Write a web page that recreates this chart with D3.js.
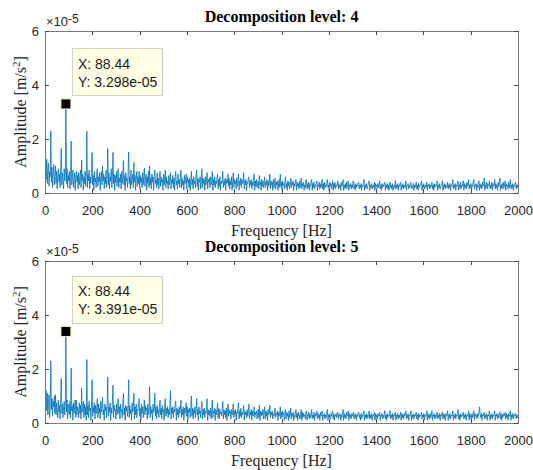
<!DOCTYPE html>
<html>
<head>
<meta charset="utf-8">
<script src="https://cdn.jsdelivr.net/npm/d3@7"></script>
<style>
  html, body { margin: 0; padding: 0; background: #fff; }
  svg { display: block; }
</style>
</head>
<body>
<svg id="chart" width="533" height="470"></svg>
<script>
// ---- data (amplitude in units of 1e-5 m/s^2) ----
const titles = ["Decomposition level: 4", "Decomposition level: 5"];
const freqResolution = 88.44 / 36; // Hz per spectral bin
const xTicks = [0, 200, 400, 600, 800, 1000, 1200, 1400, 1600, 1800, 2000];
const yTicks = [0, 2, 4, 6];
const peakFreq = [88.44, 88.44];
const peakAmp = [3.298, 3.391];
const peakLabels = ["3.298e-05", "3.391e-05"];

const level4 = [
6.0,1.3,0.5,1.25,0.35,0.9,1.1,0.25,0.8,0.6,2.3,0.4,0.95,0.2,0.75,1.05,0.3,0.65,
1.0,0.35,0.8,0.15,0.6,0.9,0.4,0.7,0.2,0.85,1.65,0.3,0.75,0.5,0.15,0.9,0.45,0.7,
3.298,0.35,0.9,0.2,0.65,0.45,0.8,0.15,0.7,1.92,0.3,0.6,0.85,0.2,0.5,0.75,0.1,0.55,
0.8,0.4,0.65,0.15,0.75,0.3,0.55,0.85,0.2,1.22,0.45,0.7,0.1,0.6,0.35,0.8,0.25,0.65,
2.28,0.2,0.7,0.45,0.85,0.15,0.6,0.35,0.75,1.5,0.3,0.65,0.1,0.8,0.4,0.55,0.2,0.7,
0.9,0.25,0.6,0.4,0.75,0.1,0.55,0.8,0.3,1.0,0.45,0.7,0.15,0.6,0.35,0.85,0.2,0.5,
1.65,0.3,0.75,0.15,0.6,0.45,0.9,0.2,0.55,1.5,0.35,0.7,0.1,0.65,0.4,0.8,0.25,0.6,
0.9,0.2,0.55,0.4,0.7,0.15,0.8,0.35,0.6,1.2,0.3,0.65,0.1,0.75,0.45,0.55,0.2,0.7,
1.52,0.35,0.6,0.15,0.85,0.3,0.5,0.7,0.2,1.13,0.4,0.65,0.1,0.55,0.8,0.25,0.6,0.35,
0.8,0.15,0.65,0.4,0.55,0.2,0.75,0.3,0.6,0.92,0.25,0.5,0.7,0.1,0.6,0.35,0.8,0.2,
1.0,0.3,0.55,0.15,0.7,0.4,0.6,0.1,0.65,0.85,0.35,0.5,0.2,0.75,0.3,0.55,0.15,0.6,
0.8,0.25,0.6,0.4,0.5,0.1,0.7,0.3,0.55,0.85,0.2,0.6,0.35,0.45,0.15,0.65,0.3,0.55,
0.75,0.15,0.5,0.35,0.65,0.2,0.55,0.1,0.6,0.8,0.3,0.45,0.15,0.7,0.35,0.5,0.2,0.6,
0.85,0.2,0.55,0.3,0.45,0.1,0.65,0.35,0.5,0.7,0.15,0.6,0.4,0.5,0.2,0.55,0.1,0.45,
0.8,0.3,0.5,0.15,0.6,0.35,0.45,0.2,0.65,0.85,0.25,0.55,0.1,0.5,0.4,0.6,0.15,0.45,
0.9,0.2,0.55,0.35,0.5,0.1,0.6,0.3,0.45,0.75,0.15,0.5,0.4,0.55,0.2,0.6,0.3,0.4,
0.8,0.1,0.5,0.3,0.6,0.2,0.45,0.35,0.55,0.7,0.15,0.5,0.25,0.6,0.1,0.45,0.35,0.5,
0.8,0.2,0.45,0.3,0.55,0.1,0.5,0.35,0.4,0.7,0.25,0.55,0.15,0.45,0.3,0.6,0.1,0.4,
0.75,0.2,0.5,0.35,0.45,0.15,0.55,0.25,0.4,0.7,0.1,0.45,0.3,0.55,0.2,0.5,0.35,0.4,
0.75,0.15,0.45,0.3,0.5,0.1,0.4,0.35,0.55,0.6,0.2,0.45,0.3,0.5,0.15,0.4,0.25,0.5,
0.7,0.1,0.45,0.25,0.5,0.2,0.35,0.45,0.15,0.65,0.3,0.4,0.1,0.5,0.25,0.45,0.2,0.35,
0.6,0.2,0.4,0.3,0.5,0.1,0.45,0.25,0.35,0.7,0.15,0.45,0.3,0.4,0.1,0.5,0.2,0.35,
0.55,0.15,0.4,0.3,0.45,0.1,0.35,0.5,0.2,0.7,0.25,0.4,0.1,0.45,0.3,0.35,0.15,0.4,
0.6,0.2,0.35,0.1,0.45,0.25,0.4,0.15,0.3,0.55,0.2,0.4,0.3,0.45,0.1,0.35,0.25,0.4,
0.5,0.1,0.4,0.25,0.35,0.15,0.45,0.2,0.3,0.55,0.15,0.35,0.25,0.4,0.1,0.3,0.2,0.45,
0.5,0.15,0.35,0.2,0.4,0.1,0.3,0.25,0.45,0.5,0.1,0.35,0.2,0.4,0.15,0.3,0.25,0.35,
0.45,0.1,0.3,0.25,0.4,0.15,0.35,0.2,0.3,0.5,0.15,0.35,0.1,0.4,0.2,0.3,0.25,0.4,
0.5,0.2,0.3,0.1,0.4,0.25,0.35,0.15,0.3,0.45,0.1,0.35,0.2,0.4,0.15,0.3,0.25,0.35,
0.45,0.15,0.35,0.2,0.3,0.1,0.4,0.25,0.3,0.5,0.1,0.3,0.2,0.35,0.15,0.4,0.2,0.3,
0.45,0.1,0.3,0.25,0.35,0.15,0.3,0.2,0.4,0.45,0.15,0.3,0.1,0.35,0.2,0.3,0.25,0.35,
0.4,0.15,0.3,0.2,0.35,0.1,0.3,0.25,0.35,0.5,0.1,0.3,0.2,0.35,0.15,0.25,0.3,0.4,
0.45,0.1,0.3,0.2,0.35,0.15,0.25,0.3,0.2,0.4,0.1,0.35,0.25,0.3,0.15,0.35,0.2,0.3,
0.45,0.15,0.3,0.1,0.35,0.2,0.3,0.25,0.35,0.4,0.1,0.3,0.2,0.35,0.15,0.3,0.1,0.35,
0.4,0.2,0.3,0.15,0.35,0.1,0.25,0.3,0.2,0.45,0.15,0.3,0.2,0.35,0.1,0.3,0.25,0.35,
0.4,0.1,0.3,0.2,0.35,0.15,0.3,0.25,0.2,0.45,0.1,0.25,0.3,0.35,0.15,0.3,0.2,0.35,
0.4,0.15,0.25,0.2,0.35,0.1,0.3,0.2,0.3,0.4,0.15,0.3,0.1,0.35,0.2,0.25,0.3,0.35,
0.45,0.1,0.3,0.2,0.35,0.15,0.25,0.3,0.2,0.4,0.1,0.3,0.25,0.35,0.15,0.3,0.2,0.3,
0.4,0.15,0.3,0.1,0.35,0.2,0.3,0.25,0.35,0.45,0.1,0.3,0.2,0.35,0.15,0.25,0.3,0.35,
0.45,0.1,0.3,0.2,0.35,0.15,0.3,0.25,0.2,0.4,0.15,0.3,0.2,0.35,0.1,0.3,0.25,0.4,
0.5,0.15,0.3,0.2,0.35,0.1,0.3,0.25,0.35,0.45,0.1,0.3,0.2,0.4,0.15,0.3,0.25,0.35,
0.45,0.1,0.35,0.2,0.3,0.15,0.4,0.25,0.3,0.5,0.15,0.3,0.2,0.35,0.1,0.3,0.25,0.4,
0.5,0.15,0.3,0.25,0.35,0.1,0.3,0.2,0.4,0.45,0.1,0.35,0.2,0.3,0.15,0.4,0.25,0.35,
0.55,0.1,0.3,0.2,0.4,0.15,0.35,0.25,0.3,0.45,0.15,0.3,0.2,0.4,0.1,0.35,0.25,0.3,
0.5,0.15,0.35,0.2,0.3,0.1,0.4,0.25,0.35,0.55,0.1,0.3,0.2,0.35,0.15,0.4,0.2,0.3,
0.45,0.1,0.35,0.25,0.3,0.15,0.4,0.2,0.35,0.5,0.15,0.3,0.2,0.35,0.1,0.3,0.25,0.35,
0.4,0.15,0.3,0.2,0.35
];

const level5 = [
6.0,1.0,1.2,0.45,1.1,0.3,0.85,1.05,0.2,0.7,2.3,0.5,0.9,0.25,0.8,0.6,1.0,0.35,
1.05,0.3,0.75,0.5,0.2,0.85,0.4,0.65,0.15,0.9,1.65,0.35,0.7,0.2,0.6,0.8,0.3,0.75,
3.391,0.4,0.85,0.15,0.7,0.5,0.3,0.8,0.2,2.03,0.45,0.65,0.1,0.75,0.35,0.6,0.85,0.2,
0.85,0.3,0.6,0.45,0.2,0.75,0.35,0.65,0.15,1.3,0.4,0.55,0.8,0.2,0.7,0.3,0.6,0.1,
2.35,0.3,0.65,0.2,0.8,0.45,0.55,0.1,0.7,1.6,0.25,0.6,0.4,0.75,0.15,0.65,0.35,0.5,
0.9,0.2,0.7,0.35,0.55,0.15,0.8,0.4,0.6,0.95,0.3,0.5,0.1,0.7,0.45,0.6,0.2,0.75,
1.7,0.25,0.6,0.4,0.75,0.1,0.55,0.35,0.8,1.4,0.2,0.65,0.45,0.5,0.15,0.7,0.3,0.55,
0.9,0.35,0.6,0.15,0.7,0.4,0.5,0.2,0.75,1.1,0.3,0.55,0.1,0.65,0.45,0.6,0.25,0.5,
1.6,0.2,0.65,0.35,0.5,0.1,0.75,0.4,0.55,1.1,0.15,0.6,0.3,0.7,0.2,0.5,0.45,0.65,
0.9,0.25,0.55,0.1,0.7,0.35,0.6,0.2,0.5,0.85,0.3,0.65,0.45,0.55,0.15,0.7,0.3,0.5,
1.35,0.2,0.6,0.35,0.5,0.1,0.7,0.4,0.55,1.1,0.25,0.6,0.15,0.65,0.35,0.5,0.2,0.6,
0.85,0.3,0.55,0.15,0.65,0.4,0.5,0.1,0.6,0.9,0.25,0.55,0.35,0.6,0.2,0.5,0.3,0.65,
1.2,0.15,0.55,0.35,0.6,0.2,0.5,0.4,0.65,0.8,0.1,0.55,0.3,0.5,0.2,0.6,0.35,0.45,
0.85,0.2,0.5,0.3,0.6,0.1,0.55,0.35,0.45,0.75,0.25,0.6,0.15,0.5,0.4,0.55,0.2,0.6,
1.0,0.25,0.55,0.15,0.5,0.35,0.6,0.2,0.45,0.9,0.3,0.5,0.1,0.6,0.35,0.45,0.2,0.55,
0.8,0.15,0.5,0.3,0.55,0.2,0.45,0.35,0.6,0.9,0.1,0.5,0.3,0.45,0.25,0.55,0.15,0.5,
0.85,0.2,0.45,0.35,0.55,0.1,0.5,0.3,0.45,0.75,0.2,0.55,0.15,0.5,0.35,0.4,0.25,0.55,
0.8,0.15,0.5,0.3,0.45,0.2,0.55,0.1,0.4,0.7,0.25,0.5,0.35,0.45,0.15,0.5,0.3,0.4,
0.7,0.2,0.45,0.3,0.5,0.1,0.4,0.35,0.5,0.75,0.15,0.45,0.25,0.55,0.2,0.4,0.3,0.45,
0.65,0.1,0.45,0.3,0.4,0.2,0.5,0.25,0.45,0.7,0.15,0.4,0.3,0.5,0.1,0.45,0.25,0.4,
0.6,0.2,0.4,0.3,0.45,0.15,0.35,0.5,0.2,0.65,0.1,0.45,0.25,0.4,0.3,0.5,0.15,0.4,
0.6,0.15,0.45,0.25,0.4,0.1,0.5,0.3,0.35,0.65,0.2,0.4,0.3,0.45,0.15,0.35,0.25,0.45,
0.55,0.2,0.35,0.3,0.45,0.1,0.4,0.25,0.35,0.6,0.15,0.4,0.2,0.45,0.3,0.35,0.1,0.4,
0.5,0.15,0.4,0.25,0.35,0.1,0.45,0.2,0.3,0.55,0.15,0.35,0.25,0.4,0.1,0.3,0.2,0.4,
0.5,0.2,0.35,0.1,0.4,0.25,0.3,0.15,0.35,0.5,0.1,0.4,0.2,0.35,0.25,0.3,0.15,0.4,
0.45,0.1,0.3,0.25,0.4,0.15,0.35,0.2,0.3,0.5,0.15,0.3,0.2,0.4,0.1,0.35,0.25,0.3,
0.45,0.15,0.35,0.2,0.3,0.1,0.4,0.25,0.35,0.45,0.1,0.3,0.25,0.35,0.15,0.3,0.2,0.4,
0.5,0.1,0.3,0.2,0.35,0.15,0.3,0.25,0.4,0.45,0.15,0.35,0.1,0.3,0.25,0.35,0.2,0.3,
0.4,0.15,0.3,0.25,0.35,0.1,0.3,0.2,0.35,0.5,0.1,0.35,0.2,0.3,0.15,0.4,0.25,0.3,
0.45,0.1,0.35,0.2,0.3,0.15,0.35,0.25,0.3,0.4,0.15,0.3,0.2,0.35,0.1,0.3,0.25,0.35,
0.4,0.2,0.3,0.1,0.35,0.15,0.3,0.25,0.35,0.45,0.1,0.3,0.2,0.35,0.15,0.3,0.2,0.35,
0.45,0.15,0.3,0.2,0.35,0.1,0.3,0.25,0.3,0.4,0.1,0.35,0.2,0.3,0.15,0.35,0.25,0.3,
0.4,0.1,0.3,0.25,0.35,0.15,0.3,0.2,0.35,0.45,0.15,0.3,0.1,0.35,0.2,0.3,0.25,0.35,
0.45,0.15,0.3,0.2,0.35,0.1,0.3,0.25,0.35,0.4,0.1,0.3,0.2,0.35,0.15,0.3,0.2,0.3,
0.4,0.1,0.35,0.2,0.3,0.15,0.35,0.25,0.3,0.45,0.15,0.3,0.2,0.35,0.1,0.3,0.25,0.35,
0.45,0.1,0.3,0.2,0.35,0.15,0.3,0.25,0.35,0.4,0.15,0.3,0.1,0.35,0.2,0.3,0.25,0.3,
0.4,0.15,0.3,0.2,0.35,0.1,0.3,0.25,0.3,0.45,0.1,0.35,0.2,0.3,0.15,0.35,0.2,0.3,
0.45,0.1,0.3,0.25,0.35,0.15,0.3,0.2,0.35,0.4,0.15,0.3,0.2,0.35,0.1,0.3,0.25,0.35,
0.4,0.15,0.35,0.2,0.3,0.1,0.35,0.25,0.3,0.45,0.1,0.3,0.2,0.35,0.15,0.3,0.25,0.3,
0.45,0.1,0.3,0.2,0.35,0.15,0.3,0.25,0.35,0.5,0.15,0.3,0.1,0.35,0.2,0.3,0.25,0.35,
0.4,0.15,0.3,0.2,0.35,0.1,0.3,0.25,0.3,0.45,0.1,0.35,0.2,0.3,0.15,0.35,0.2,0.3,
0.45,0.1,0.35,0.25,0.3,0.15,0.35,0.2,0.3,0.4,0.6,0.3,0.2,0.35,0.1,0.3,0.25,0.35,
0.4,0.15,0.3,0.2,0.35,0.1,0.3,0.25,0.35,0.45,0.1,0.3,0.2,0.35,0.15,0.3,0.25,0.3,
0.45,0.1,0.3,0.25,0.35,0.15,0.3,0.2,0.35,0.4,0.15,0.35,0.1,0.3,0.2,0.35,0.25,0.3,
0.4,0.15,0.35,0.2,0.3,0.1,0.35,0.25,0.3,0.45,0.1,0.3,0.2,0.35,0.15,0.3,0.25,0.35,
0.35,0.15,0.3,0.2,0.3
];

const seriesList = [level4, level5];

// ---- layout ----
const svg = d3.select("#chart");
const left = 45, right = 518;
const panels = [{ top: 31, bottom: 193 }, { top: 261, bottom: 423 }];
const axisColor = "#262626";
const lineColor = "#0072BD";

const x = d3.scaleLinear().domain([0, 2000]).range([left, right]);

panels.forEach((p, k) => {
  const y = d3.scaleLinear().domain([0, 6]).range([p.bottom, p.top]);
  const g = svg.append("g");

  const clipId = "clip" + k;
  svg.append("clipPath").attr("id", clipId)
    .append("rect").attr("x", left).attr("y", p.top)
    .attr("width", right - left).attr("height", p.bottom - p.top);

  const data = seriesList[k].map((v, i) => ({ f: i * freqResolution, a: v }));
  g.append("path")
    .datum(data)
    .attr("clip-path", `url(#${clipId})`)
    .attr("fill", "none")
    .attr("stroke", lineColor)
    .attr("stroke-width", 0.8)
    .attr("d", d3.line().x(d => x(d.f)).y(d => y(d.a)));

  const styleAxis = sel => {
    sel.selectAll("path.domain").attr("stroke", "#7a7a7a").attr("stroke-width", 1).attr("shape-rendering", "crispEdges");
    sel.selectAll(".tick line").attr("stroke", "#4a4a4a").attr("stroke-width", 1).attr("shape-rendering", "crispEdges");
    sel.selectAll(".tick text").attr("fill", axisColor)
      .style("font-family", "'Liberation Sans', Arial, Helvetica, sans-serif")
      .style("font-size", "13px");
  };

  g.append("g").attr("transform", `translate(0,${p.bottom})`)
    .call(d3.axisBottom(x).tickValues(xTicks).tickSize(-4).tickSizeOuter(0).tickPadding(13).tickFormat(d3.format("d")))
    .call(styleAxis);
  g.append("g").attr("transform", `translate(0,${p.top})`)
    .call(d3.axisTop(x).tickValues(xTicks).tickSize(-4).tickSizeOuter(0).tickFormat(""))
    .call(styleAxis);
  g.append("g").attr("transform", `translate(${left},0)`)
    .call(d3.axisLeft(y).tickValues(yTicks).tickSize(-4).tickSizeOuter(0).tickPadding(6).tickFormat(d3.format("d")))
    .call(styleAxis);
  g.append("g").attr("transform", `translate(${right},0)`)
    .call(d3.axisRight(y).tickValues(yTicks).tickSize(-4).tickSizeOuter(0).tickFormat(""))
    .call(styleAxis);
  g.selectAll(".tick text").attr("font-family", null);

  // exponent label
  const ex = g.append("text")
    .attr("x", left + 1).attr("y", p.top - 5)
    .attr("fill", axisColor)
    .style("font-family", "'Liberation Sans', Arial, sans-serif")
    .style("font-size", "13px");
  ex.append("tspan").text("\u00d710");
  ex.append("tspan").attr("dy", -3).style("font-size", "12px").text("-5");

  // title
  g.append("text")
    .attr("x", (left + right) / 2).attr("y", p.top - 9)
    .attr("text-anchor", "middle")
    .attr("fill", "#000")
    .style("font-family", "'Liberation Serif', 'Times New Roman', serif")
    .style("font-weight", "bold")
    .style("font-size", "16px")
    .text(titles[k]);

  // x label
  g.append("text")
    .attr("x", (left + right) / 2).attr("y", p.bottom + 43)
    .attr("text-anchor", "middle")
    .attr("fill", axisColor)
    .style("font-family", "'Liberation Serif', 'Times New Roman', serif")
    .style("font-size", "16px")
    .text("Frequency [Hz]");

  // y label
  const yl = g.append("text")
    .attr("transform", `translate(26,${(p.top + p.bottom) / 2}) rotate(-90)`)
    .attr("text-anchor", "middle")
    .attr("fill", axisColor)
    .style("font-family", "'Liberation Serif', 'Times New Roman', serif")
    .style("font-size", "16px");
  yl.append("tspan").text("Amplitude [m/s");
  yl.append("tspan").attr("dy", -6).style("font-size", "11px").text("2");
  yl.append("tspan").attr("dy", 6).text("]");

  // data tip
  const mx = x(peakFreq[k]), my = y(peakAmp[k]);
  const bx = mx + 7, bw = 90, bh = 47, by = my - 8 - bh;
  g.append("rect")
    .attr("x", bx).attr("y", by).attr("width", bw).attr("height", bh)
    .attr("fill", "#ffffe6").attr("stroke", "#d4d4c4").attr("stroke-width", 1)
    .attr("shape-rendering", "crispEdges");
  const tipFont = "'Liberation Sans', Arial, Helvetica, sans-serif";
  g.append("text").attr("x", bx + 5).attr("y", by + 20)
    .attr("fill", "#1a1a1a").style("font-family", tipFont).style("font-size", "14px")
    .text("X: " + peakFreq[k]);
  g.append("text").attr("x", bx + 5).attr("y", by + 38)
    .attr("fill", "#1a1a1a").style("font-family", tipFont).style("font-size", "14px")
    .text("Y: " + peakLabels[k]);
  g.append("rect")
    .attr("x", mx - 5).attr("y", my - 5).attr("width", 10).attr("height", 10)
    .attr("fill", "#000").attr("stroke", "#f2f2c8").attr("stroke-width", 1);
});
</script>
</body>
</html>
